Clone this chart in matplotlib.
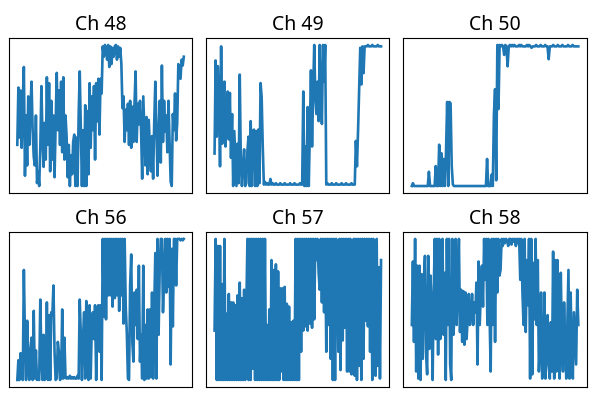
import matplotlib
matplotlib.use("Agg")
import matplotlib.pyplot as plt

plt.rcParams['font.family'] = ['Noto Sans', 'DejaVu Sans']

titles = ["Ch 48", "Ch 49", "Ch 50", "Ch 56", "Ch 57", "Ch 58"]

# values, 0 = bottom of the trace, 100 = top
ch48 = [30, 69, 35, 67, 28, 60, 83, 9, 50, 16, 63, 30, 55, 73, 40, 22, 16, 50,
        4, 12, 2, 28, 70, 35, 15, 45, 20, 76, 30, 72, 12, 60, 20, 50, 8, 45,
        79, 40, 67, 30, 73, 25, 76, 20, 50, 36, 8, 30, 2, 23, 10, 32, 37, 2,
        35, 2, 50, 80, 40, 2, 40, 2, 57, 2, 53, 10, 72, 28, 63, 40, 70, 20,
        72, 46, 75, 37, 75, 65, 97, 90, 98, 95, 88, 98, 83, 97, 85, 96, 90, 97,
        98, 88, 97, 90, 96, 85, 55, 63, 32, 54, 40, 58, 30, 60, 28, 56, 32, 58,
        80, 32, 58, 44, 60, 40, 7, 63, 40, 16, 49, 10, 47, 30, 12, 36, 7, 45,
        73, 40, 9, 37, 60, 18, 84, 32, 60, 39, 50, 25, 60, 32, 5, 2, 51, 40,
        65, 33, 45, 85, 80, 75, 88, 84, 90]
ch49 = [23, 89, 35, 85, 63, 14, 99, 30, 63, 74, 28, 50, 67, 33, 66, 20, 51, 0,
        39, 20, 0, 30, 2, 79, 16, 0, 16, 26, 0, 2, 25, 35, 0, 46, 0, 39,
        40, 0, 39, 0, 40, 2, 73, 63, 28, 1, 3, 1, 2, 1, 1, 5, 1, 2,
        1, 1, 2, 1, 1, 1, 2, 1, 1, 1, 2, 1, 1, 1, 1, 2, 1, 1,
        1, 2, 1, 1, 1, 1, 2, 1, 1, 67, 0, 28, 0, 56, 0, 39, 82, 28,
        67, 100, 63, 51, 74, 46, 100, 63, 44, 100, 74, 100, 1, 2, 1, 1, 1, 2,
        1, 1, 1, 2, 1, 1, 1, 1, 2, 1, 1, 1, 2, 1, 1, 1, 1, 2,
        1, 1, 1, 32, 14, 39, 70, 98, 72, 99, 80, 99, 99, 99, 100, 99, 99, 99,
        100, 99, 99, 99, 99, 100, 99, 99, 99]
ch50 = [1, 3, 1, 1, 1, 1, 1, 1, 1, 1, 1, 1, 1, 1, 1, 11, 1, 1,
        1, 1, 1, 15, 1, 1, 30, 1, 24, 1, 20, 1, 25, 60, 1, 60, 59, 15,
        2, 1, 1, 1, 1, 1, 1, 1, 1, 1, 1, 1, 1, 1, 1, 1, 1, 1,
        1, 1, 1, 1, 1, 1, 1, 1, 1, 1, 1, 1, 20, 1, 1, 1, 9, 1,
        51, 69, 5, 100, 55, 100, 99, 100, 99, 93, 100, 99, 85, 99, 100, 99, 100, 99,
        100, 99, 99, 99, 100, 99, 100, 99, 99, 99, 99, 100, 99, 100, 99, 98, 99, 99,
        99, 100, 99, 99, 99, 100, 99, 99, 99, 100, 99, 99, 90, 99, 99, 99, 100, 99,
        99, 99, 100, 99, 99, 99, 100, 99, 99, 99, 99, 100, 99, 99, 99, 100, 99, 99,
        99, 99, 99]
ch56 = [0, 14, 0, 19, 2, 0, 78, 29, 0, 42, 12, 0, 22, 30, 0, 49, 1, 21,
        0, 1, 0, 57, 16, 0, 32, 0, 2, 55, 0, 46, 0, 48, 46, 67, 20, 0,
        1, 27, 20, 0, 1, 50, 1, 30, 2, 1, 2, 1, 3, 1, 2, 1, 2, 1,
        1, 3, 1, 57, 32, 0, 30, 48, 1, 56, 15, 0, 53, 1, 39, 48, 29, 53,
        0, 48, 53, 20, 53, 0, 100, 45, 100, 43, 100, 60, 100, 60, 100, 52, 100, 58,
        100, 60, 100, 49, 100, 60, 100, 40, 100, 52, 33, 1, 0, 67, 89, 27, 13, 62,
        39, 64, 29, 81, 13, 32, 1, 81, 0, 39, 1, 50, 1, 50, 2, 62, 1, 50,
        90, 1, 100, 32, 78, 100, 100, 48, 72, 100, 62, 100, 66, 100, 11, 93, 38, 100,
        100, 67, 100, 100, 100, 99, 100, 99, 100]
ch57 = [35, 100, 0, 95, 0, 95, 0, 68, 0, 100, 0, 47, 0, 61, 0, 55, 0, 55,
        0, 53, 0, 60, 0, 69, 0, 58, 0, 64, 0, 52, 100, 0, 100, 0, 100, 8,
        100, 0, 100, 0, 100, 0, 100, 0, 100, 0, 100, 0, 39, 0, 50, 0, 85, 0,
        78, 0, 82, 0, 77, 0, 65, 6, 65, 0, 66, 0, 54, 0, 52, 0, 41, 0,
        42, 0, 100, 0, 100, 0, 100, 20, 100, 35, 100, 38, 100, 35, 100, 40, 100, 37,
        100, 43, 100, 85, 100, 76, 64, 100, 55, 100, 48, 100, 20, 100, 39, 100, 15, 100,
        0, 100, 0, 100, 72, 20, 100, 7, 100, 28, 100, 37, 100, 6, 100, 6, 100, 4,
        32, 100, 3, 100, 0, 100, 10, 100, 0, 100, 15, 100, 42, 100, 38, 100, 20, 100,
        0, 100, 29, 3, 100, 10, 80, 1, 85]
ch58 = [39, 84, 27, 100, 6, 81, 1, 81, 0, 75, 15, 71, 88, 20, 4, 88, 22, 74,
        53, 0, 63, 100, 29, 100, 18, 100, 29, 43, 100, 32, 76, 0, 100, 39, 100, 11,
        0, 100, 32, 46, 100, 39, 67, 100, 34, 64, 27, 63, 25, 62, 29, 43, 61, 39,
        46, 61, 39, 55, 48, 69, 11, 84, 39, 62, 81, 52, 100, 71, 100, 39, 100, 46,
        6, 100, 39, 100, 27, 100, 62, 100, 74, 78, 100, 95, 100, 97, 100, 99, 95, 100,
        100, 96, 100, 98, 100, 95, 100, 97, 100, 71, 100, 62, 39, 100, 34, 85, 53, 100,
        1, 100, 4, 83, 43, 100, 39, 85, 6, 25, 62, 1, 6, 62, 1, 20, 46, 10,
        1, 41, 6, 91, 1, 85, 6, 85, 20, 1, 76, 27, 6, 55, 25, 1, 39, 78,
        1, 62, 20, 1, 48, 29, 11, 64, 39]

series = [ch48, ch49, ch50, ch56, ch57, ch58]

fig, axes = plt.subplots(2, 3, figsize=(5.98, 3.99), dpi=100)
for ax, t, s in zip(axes.flat, titles, series):
    ax.plot(s, color='#1f77b4', lw=1.9)
    ax.set_title(t, fontsize=14)
    ax.set_xticks([])
    ax.set_yticks([])

plt.subplots_adjust(left=0.015, right=0.981, bottom=0.03, top=0.905,
                    wspace=0.077, hspace=0.25)
plt.savefig("out.png")
